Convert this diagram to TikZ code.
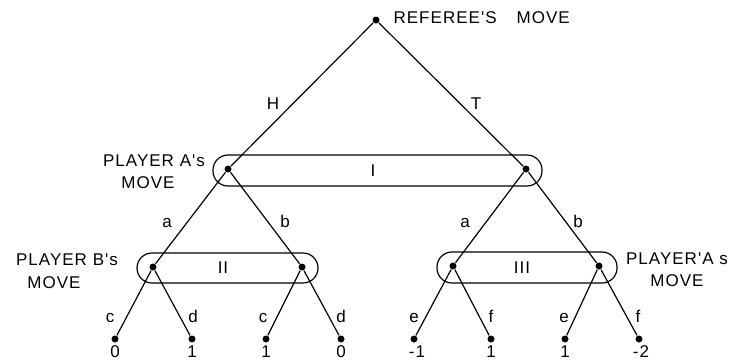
\documentclass[tikz,border=0pt]{standalone}
\usepackage{fontspec}
\setmainfont{Liberation Sans}
\newfontfamily\lettering[LetterSpace=6]{Liberation Sans}
\begin{document}
\begin{tikzpicture}[x=1pt,y=-1pt,line width=1.2pt,
  dot/.style={circle,fill,inner sep=0pt,minimum size=7pt},
  infoset/.style={draw,rounded corners=15pt,inner sep=0pt},
  lbl/.style={font=\lettering\fontsize{17}{20}\selectfont,inner sep=0pt},
  elbl/.style={lbl,anchor=base}]
\useasboundingbox (0,0) rectangle (736,362);
% tree nodes
\node[dot] (r)  at (376,20) {};
\node[dot] (al) at (228,169) {};
\node[dot] (ar) at (526,169) {};
\node[dot] (b1) at (153,267) {};
\node[dot] (b2) at (302,267) {};
\node[dot] (b3) at (453,266) {};
\node[dot] (b4) at (599,266) {};
\node[dot] (l1) at (115,339) {};
\node[dot] (l2) at (192,339) {};
\node[dot] (l3) at (266,339) {};
\node[dot] (l4) at (341,339) {};
\node[dot] (l5) at (414,339) {};
\node[dot] (l6) at (491,339) {};
\node[dot] (l7) at (565,339) {};
\node[dot] (l8) at (639,339) {};
% branches
\draw (r) -- (al);
\draw (r) -- (ar);
\draw (al) -- (b1);
\draw (al) -- (b2);
\draw (ar) -- (b3);
\draw (ar) -- (b4);
\draw (b1) -- (l1);
\draw (b1) -- (l2);
\draw (b2) -- (l3);
\draw (b2) -- (l4);
\draw (b3) -- (l5);
\draw (b3) -- (l6);
\draw (b4) -- (l7);
\draw (b4) -- (l8);
% information sets
\node[infoset,minimum width=329pt,minimum height=31pt] (s1) at (377.5,170.5) {};
\node[infoset,minimum width=181pt,minimum height=30pt] (s2) at (227.5,268) {};
\node[infoset,minimum width=180pt,minimum height=31pt] (s3) at (527,267.5) {};
\node[lbl] (n1) at (373,171) {I};
\node[lbl] (n2) at (223,268) {II};
\node[lbl] (n3) at (522,268) {III};
% branch labels
\node[elbl] (tH) at (273,109) {H};
\node[elbl] (tT) at (476,109) {T};
\node[elbl] (ta1) at (167,227) {a};
\node[elbl] (tb1) at (285,227) {b};
\node[elbl] (ta2) at (465,227) {a};
\node[elbl] (tb2) at (578,227) {b};
\node[elbl] (tc1) at (110,322) {c};
\node[elbl] (td1) at (193,322) {d};
\node[elbl] (tc2) at (263,322) {c};
\node[elbl] (td2) at (341,322) {d};
\node[elbl] (te1) at (414,322) {e};
\node[elbl] (tf1) at (491,322) {f};
\node[elbl] (te2) at (564,322) {e};
\node[elbl] (tf2) at (638,322) {f};
% payoffs
\node[elbl] (v1) at (115,357) {0};
\node[elbl] (v2) at (192,357) {1};
\node[elbl] (v3) at (266,357) {1};
\node[elbl] (v4) at (341,357) {0};
\node[elbl] (v5) at (417,357) {-1};
\node[elbl] (v6) at (491,357) {1};
\node[elbl] (v7) at (565,357) {1};
\node[elbl] (v8) at (641,357) {-2};
% move labels
\node[lbl,anchor=west] (ref) at (393,18) {REFEREE'S\hspace{20pt}MOVE};
\node[lbl] (pa1) at (154,161) {PLAYER A's};
\node[lbl] (pa2) at (148,183) {MOVE};
\node[lbl] (pb1) at (67,260) {PLAYER B's};
\node[lbl] (pb2) at (54,283) {MOVE};
\node[lbl] (pc1) at (677,259) {PLAYER'A s};
\node[lbl] (pc2) at (677,281) {MOVE};
\end{tikzpicture}
\end{document}
